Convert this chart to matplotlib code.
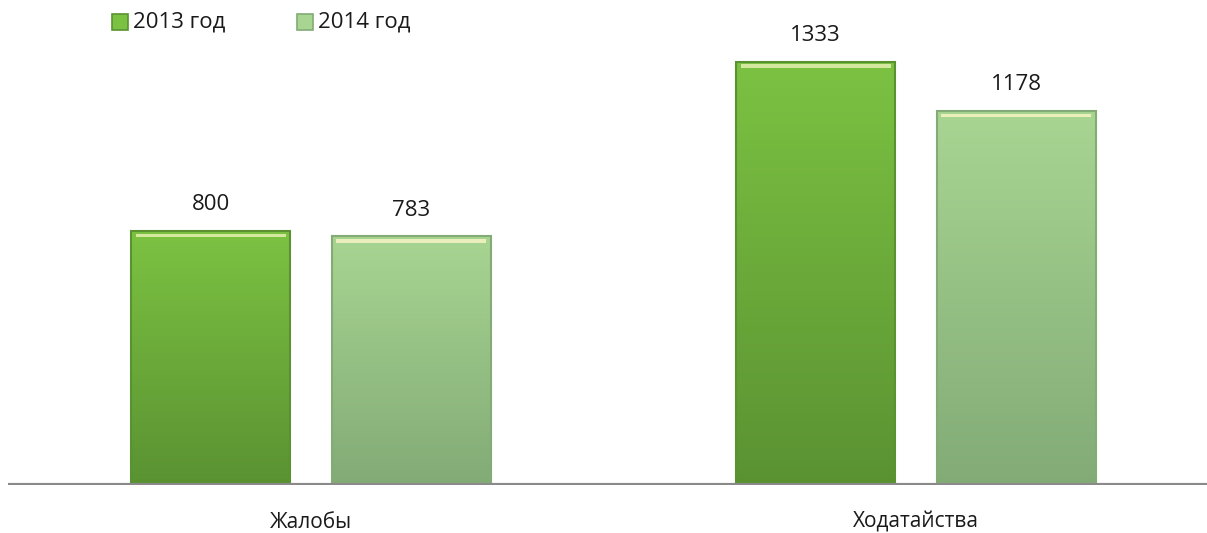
import numpy as np
import matplotlib.pyplot as plt
from matplotlib.patches import Rectangle
from matplotlib.colors import LinearSegmentedColormap

categories = ['Жалобы', 'Ходатайства']
series_names = ['2013 год', '2014 год']
values_2013 = [800, 1333]
values_2014 = [783, 1178]

plt.rcParams['font.family'] = ['Open Sans', 'DejaVu Sans']

fig = plt.figure(figsize=(12.07, 5.33), dpi=100)
ax = fig.add_axes([8 / 1207, 48 / 533, 1 - 8 / 1207, 465 / 533])
ax.set_xlim(-0.5008, 1.481)
ax.set_ylim(0, 1465)
ax.axis('off')

width = 0.264
offset = 0.166
# top colour, bottom colour, top highlight
styles = [('#7cc242', '#5a9232', '#e4efb0'),
          ('#a8d592', '#82ab76', '#f6f4c4')]

def gradient_bar(x, h, top, bottom, hl):
    grad = np.linspace(0, 1, 256).reshape(-1, 1)
    cmap = LinearSegmentedColormap.from_list('g', [bottom, top])
    im = ax.imshow(grad, cmap=cmap, aspect='auto', origin='lower',
                   extent=[x - width / 2, x + width / 2, 0, h], zorder=2)
    rect = Rectangle((x - width / 2, 0), width, h, facecolor='none',
                     edgecolor='none')
    ax.add_patch(rect)
    im.set_clip_path(rect)
    # light band along the top edge
    ax.add_patch(Rectangle((x - width / 2 + 0.008, h - 20), width - 0.016, 12,
                           facecolor=hl, edgecolor='none', alpha=0.85, zorder=3))
    # darker edges
    ax.add_patch(Rectangle((x - width / 2, 0), width, h, facecolor='none',
                           edgecolor=bottom, linewidth=1.5, zorder=3))

xs = np.arange(len(categories))
for i, vals in enumerate([values_2013, values_2014]):
    top, bottom, hl = styles[i]
    for x, v in zip(xs + (i * 2 - 1) * offset, vals):
        gradient_bar(x, v, top, bottom, hl)
        ax.text(x, v + 50, str(v), ha='center', va='bottom', fontsize=16,
                color='#1a1a1a')

ax.axhline(0, color='#8a8a8a', linewidth=3, zorder=4)

for x, c in zip(xs, categories):
    fig.text(ax.transData.transform((x, 0))[0] / fig.bbox.width, 11 / 533, c,
             ha='center', va='center', fontsize=15, color='#1a1a1a')

# legend
leg_x = [112, 297]
for i, name in enumerate(series_names):
    top, bottom, hl = styles[i]
    fig.patches.append(Rectangle((leg_x[i] / 1207, (533 - 30) / 533), 16 / 1207, 16 / 533,
                                 transform=fig.transFigure, facecolor=top,
                                 edgecolor=bottom, linewidth=1.2))
    fig.text((leg_x[i] + 21) / 1207, (533 - 22) / 533, name, ha='left', va='center',
             fontsize=16, color='#1a1a1a')

fig.savefig('out.png', dpi=100)
